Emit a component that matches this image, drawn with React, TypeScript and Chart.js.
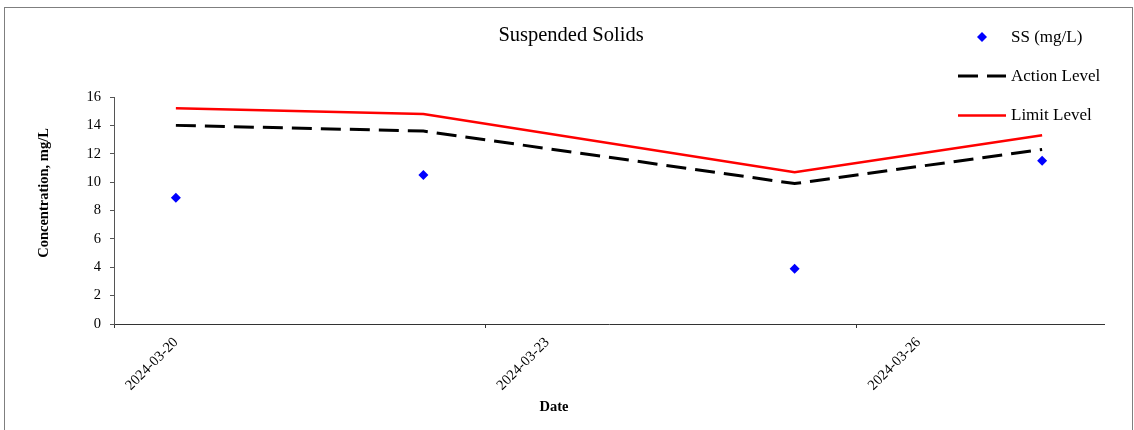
import React, { useEffect, useRef } from 'react';
import { Chart, registerables } from 'chart.js';

Chart.register(...registerables);

// ---- data ----
const CHART_TITLE = 'Suspended Solids';
const X_TITLE = 'Date';
const Y_TITLE = 'Concentration, mg/L';
const seriesNames = ['SS (mg/L)', 'Action Level', 'Limit Level'];

const axisStartDate = '2024-03-20';
const axisDays = 8;
const tickStepDays = 3;

const sampleDates = ['2024-03-20', '2024-03-22', '2024-03-25', '2024-03-27'];
const ssValues = [8.9, 10.5, 3.9, 11.5];
const actionLevelValues = [14.0, 13.6, 9.9, 12.3];
const limitLevelValues = [15.2, 14.8, 10.7, 13.3];

const yMin = 0;
const yMax = 16;
const yStep = 2;

// ---- helpers ----
const DAY_MS = 86400000;
const startMs = Date.parse(axisStartDate + 'T00:00:00Z');
const dayIndex = (d: string) => (Date.parse(d + 'T00:00:00Z') - startMs) / DAY_MS + 0.5;
const dayLabel = (v: number) => new Date(startMs + v * DAY_MS).toISOString().slice(0, 10);
const toPoints = (vals: number[]) => sampleDates.map((d, i) => ({ x: dayIndex(d), y: vals[i] }));

const SERIF = '"Liberation Serif", "Times New Roman", serif';

const decorPlugin = {
  id: 'decor',
  afterDraw(chart: any) {
    const ctx = chart.ctx as CanvasRenderingContext2D;
    ctx.save();
    // outer frame
    ctx.strokeStyle = '#7f7f7f';
    ctx.lineWidth = 1;
    ctx.strokeRect(4.5, 7.5, 1128, 440);

    // title
    ctx.fillStyle = '#000';
    ctx.font = `20.5px ${SERIF}`;
    ctx.textAlign = 'center';
    ctx.textBaseline = 'middle';
    ctx.fillText(CHART_TITLE, 571, 36);

    // legend
    ctx.font = `17px ${SERIF}`;
    ctx.textAlign = 'left';
    const lx0 = 958, lx1 = 1006, tx = 1011;
    // SS diamond
    ctx.fillStyle = '#0000ff';
    ctx.beginPath();
    ctx.moveTo(982, 32);
    ctx.lineTo(987, 37);
    ctx.lineTo(982, 42);
    ctx.lineTo(977, 37);
    ctx.closePath();
    ctx.fill();
    ctx.fillStyle = '#000';
    ctx.fillText(seriesNames[0], tx, 38);
    // action level
    ctx.strokeStyle = '#000';
    ctx.lineWidth = 3;
    ctx.setLineDash([20, 9]);
    ctx.beginPath();
    ctx.moveTo(lx0, 76);
    ctx.lineTo(lx1, 76);
    ctx.stroke();
    ctx.setLineDash([]);
    ctx.fillText(seriesNames[1], tx, 77);
    // limit level
    ctx.strokeStyle = '#ff0000';
    ctx.lineWidth = 2.5;
    ctx.beginPath();
    ctx.moveTo(lx0, 115.5);
    ctx.lineTo(lx1, 115.5);
    ctx.stroke();
    ctx.fillText(seriesNames[2], tx, 116);

    // axis titles
    ctx.fillStyle = '#000';
    ctx.font = `bold 14.5px ${SERIF}`;
    ctx.textAlign = 'center';
    ctx.fillText(X_TITLE, 554, 407);
    ctx.translate(44, 193);
    ctx.rotate(-Math.PI / 2);
    ctx.fillText(Y_TITLE, 0, 0);
    ctx.restore();
  },
};

export default function App() {
  const canvasRef = useRef<HTMLCanvasElement | null>(null);

  useEffect(() => {
    const canvas = canvasRef.current;
    if (!canvas) return;
    const chart = new Chart(canvas, {
      type: 'line',
      data: {
        datasets: [
          {
            label: seriesNames[0],
            data: toPoints(ssValues),
            showLine: false,
            pointStyle: 'rectRot',
            pointRadius: 5,
            pointBackgroundColor: '#0000ff',
            pointBorderColor: '#0000ff',
            pointBorderWidth: 0,
            backgroundColor: '#0000ff',
            borderColor: '#0000ff',
          },
          {
            label: seriesNames[1],
            data: toPoints(actionLevelValues),
            borderColor: '#000000',
            borderWidth: 3,
            borderDash: [20, 9],
            pointRadius: 0,
            tension: 0,
            fill: false,
          },
          {
            label: seriesNames[2],
            data: toPoints(limitLevelValues),
            borderColor: '#ff0000',
            borderWidth: 2.5,
            pointRadius: 0,
            tension: 0,
            fill: false,
          },
        ],
      },
      options: {
        responsive: false,
        animation: false,
        events: [],
        layout: { padding: { left: 0, top: 97, right: 30, bottom: 0 } },
        plugins: {
          legend: { display: false },
          title: { display: false },
          tooltip: { enabled: false },
        },
        scales: {
          x: {
            type: 'linear',
            min: 0,
            max: axisDays,
            afterFit: (s: any) => {
              s.height = 106;
            },
            grid: { drawOnChartArea: false, drawTicks: true, tickLength: 4, color: '#333' },
            border: { display: true, color: '#333', width: 1 },
            ticks: {
              stepSize: tickStepDays,
              includeBounds: false,
              autoSkip: false,
              minRotation: 45,
              maxRotation: 45,
              labelOffset: 62,
              padding: 6,
              color: '#000',
              font: { family: SERIF, size: 14.5 },
              callback: (v: any) => dayLabel(Number(v)),
            },
          },
          y: {
            type: 'linear',
            min: yMin,
            max: yMax,
            afterFit: (s: any) => {
              s.width = 114;
            },
            grid: { drawOnChartArea: false, drawTicks: true, tickLength: 4, color: '#555' },
            border: { display: true, color: '#555', width: 1 },
            ticks: {
              stepSize: yStep,
              padding: 9,
              color: '#000',
              font: { family: SERIF, size: 14.5 },
            },
          },
        },
      },
      plugins: [decorPlugin],
    } as any);
    return () => chart.destroy();
  }, []);

  return (
    <div style={{ position: 'fixed', left: 0, top: 0, width: 1134, height: 430, background: '#fff' }}>
      <canvas ref={canvasRef} width={1134} height={430} style={{ display: 'block' }} />
    </div>
  );
}
